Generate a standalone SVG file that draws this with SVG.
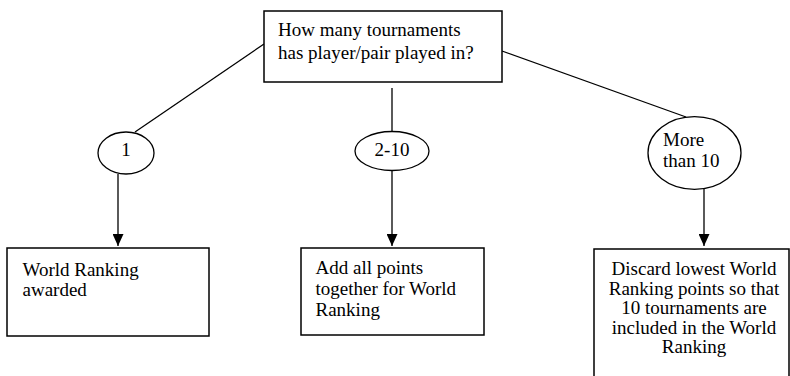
<svg xmlns="http://www.w3.org/2000/svg" width="790" height="376" viewBox="0 0 790 376">
<defs>
<style>
.box{fill:#fff;stroke:#000;stroke-width:1.5}
.ell{fill:#fff;stroke:#000;stroke-width:1.3}
.ln{stroke:#000;stroke-width:1.3;fill:none}
text{font-family:"Liberation Serif","Times New Roman",serif;font-size:19px;fill:#000}
.c{text-anchor:middle}
</style>
<marker id="arr" viewBox="0 0 12 11" refX="12" refY="5.5" markerWidth="12" markerHeight="11" markerUnits="userSpaceOnUse" orient="auto">
<path d="M0,0 L12,5.5 L0,11 Z" fill="#000"/>
</marker>
</defs>
<rect width="790" height="376" fill="#fff"/>
<g id="connectors">
<line class="ln" x1="264" y1="44" x2="135" y2="132"/>
<line class="ln" x1="392" y1="88" x2="392" y2="132"/>
<line class="ln" x1="502" y1="51" x2="686" y2="117"/>
<line class="ln" x1="118" y1="174" x2="118" y2="246" marker-end="url(#arr)"/>
<line class="ln" x1="392" y1="171" x2="392" y2="246" marker-end="url(#arr)"/>
<line class="ln" x1="704" y1="189" x2="704" y2="246" marker-end="url(#arr)"/>
</g>
<g id="question">
<rect class="box" x="264" y="11" width="238" height="71"/>
<text x="278" y="36">How many tournaments</text>
<text x="278" y="59">has player/pair played in?</text>
</g>
<g id="opt1">
<ellipse class="ell" cx="126" cy="153" rx="28" ry="21"/>
<text class="c" x="126" y="156">1</text>
</g>
<g id="opt2">
<ellipse class="ell" cx="392" cy="151" rx="37" ry="19.5"/>
<text class="c" x="392" y="156">2-10</text>
</g>
<g id="opt3">
<ellipse class="ell" cx="694.5" cy="153" rx="46.5" ry="36.3"/>
<text x="663" y="146">More</text>
<text x="663" y="167">than 10</text>
</g>
<g id="result1">
<rect class="box" x="7" y="248" width="202" height="88"/>
<text x="22.5" y="276">World Ranking</text>
<text x="22.5" y="296">awarded</text>
</g>
<g id="result2">
<rect class="box" x="301" y="248" width="183" height="87"/>
<text x="315.5" y="274">Add all points</text>
<text x="315.5" y="295">together for World</text>
<text x="315.5" y="315.5">Ranking</text>
</g>
<g id="result3">
<rect class="box" x="594" y="249" width="195" height="140"/>
<text class="c" x="694" y="275">Discard lowest World</text>
<text class="c" x="694" y="294.5">Ranking points so that</text>
<text class="c" x="694" y="314">10 tournaments are</text>
<text class="c" x="694" y="333.5">included in the World</text>
<text class="c" x="694" y="353">Ranking</text>
</g>
</svg>
